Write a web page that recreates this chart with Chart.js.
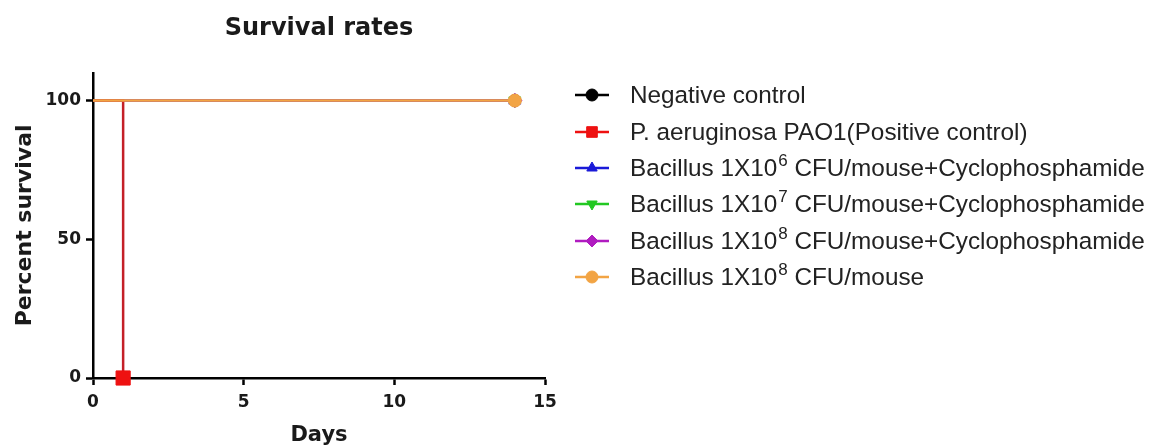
<!DOCTYPE html>
<html>
<head>
<meta charset="utf-8">
<script src="https://cdn.jsdelivr.net/npm/chart.js@4.4.1/dist/chart.umd.min.js"></script>
<style>
  html, body { margin: 0; padding: 0; background: #fff; }
  #wrap { position: relative; width: 1155px; height: 448px; overflow: hidden; }
  #chart { position: absolute; left: 0; top: 0; }
  #legend { position: absolute; left: 575px; top: 77px; font-family: "Liberation Sans", Arial, sans-serif; font-size: 24.3px; color: #222; }
  .item { display: flex; align-items: center; height: 36.4px; white-space: nowrap; }
  .item canvas { margin-right: 21px; flex: none; }
  .item sup { font-size: 17px; vertical-align: 0.6em; line-height: 0; margin-left: 1px; }
</style>
</head>
<body>
<div id="wrap">
  <canvas id="chart" width="570" height="448"></canvas>
  <div id="legend"></div>
</div>
<script>
// Valeurs (jours / % de survie)
const groupDays = [0, 14];
const negativeControl = [100, 100];
const bacillus6Cyclo = [100, 100];
const bacillus7Cyclo = [100, 100];
const bacillus8Cyclo = [100, 100];
const bacillus8 = [100, 100];
const pao1Days = [0, 1, 1];
const pao1Survival = [100, 100, 0];

const seriesNames = [
    'Negative control',
    'P. aeruginosa PAO1(Positive control)',
    'Bacillus 1X10<sup>6</sup> CFU/mouse+Cyclophosphamide',
    'Bacillus 1X10<sup>7</sup> CFU/mouse+Cyclophosphamide',
    'Bacillus 1X10<sup>8</sup> CFU/mouse+Cyclophosphamide',
    'Bacillus 1X10<sup>8</sup> CFU/mouse'
];
const xTicks = [0, 5, 10, 15];
const yTicks = [0, 50, 100];

const boldFont = (size) => ({ family: '"DejaVu Sans", sans-serif', size: size, weight: 'bold' });

function points(xs, ys) {
    return xs.map((x, i) => ({ x: x, y: ys[i] }));
}

// marqueur seulement au dernier point
function lastOnly(n, r) {
    return Array.from({ length: n }, (_, i) => i === n - 1 ? r : 0);
}

function series(i, xs, ys, color, style, radius, order, rotation) {
    return {
        label: seriesNames[i].replace(/<[^>]+>/g, ''),
        data: points(xs, ys),
        borderColor: color,
        backgroundColor: color,
        pointBackgroundColor: color,
        pointBorderColor: color,
        borderWidth: 2.5,
        pointStyle: style,
        pointRotation: rotation || 0,
        pointRadius: lastOnly(xs.length, radius),
        pointBorderWidth: 1,
        order: order,
        clip: false
    };
}

const datasets = [
    series(0, groupDays, negativeControl, '#000000', 'circle', 6, 5),
    series(1, pao1Days, pao1Survival, '#c42028', 'rect', 10, 1),
    series(2, groupDays, bacillus6Cyclo, '#1a1ad8', 'triangle', 7, 4),
    series(3, groupDays, bacillus7Cyclo, '#22c822', 'triangle', 7, 3, 180),
    series(4, groupDays, bacillus8Cyclo, '#b01cc0', 'rectRot', 7, 2),
    series(5, groupDays, bacillus8, '#f2a444', 'circle', 6.5, 0)
];
datasets[1].pointBackgroundColor = '#ee1111';
datasets[1].pointBorderColor = '#ee1111';

const chart = new Chart(document.getElementById('chart'), {
    type: 'line',
    data: { datasets: datasets },
    options: {
        responsive: false,
        animation: false,
        events: [],
        layout: { padding: { left: 0, right: 25, top: 0, bottom: 0 } },
        plugins: {
            legend: { display: false },
            tooltip: { enabled: false },
            title: {
                display: true,
                text: 'Survival rates',
                fullSize: false,
                color: '#1a1a1a',
                font: boldFont(24),
                padding: { top: 14, bottom: 30 }
            }
        },
        scales: {
            x: {
                type: 'linear',
                min: 0,
                max: 15,
                afterBuildTicks: (scale) => { scale.ticks = xTicks.map(v => ({ value: v })); },
                afterFit: (scale) => { scale.height = 70; },
                grid: { drawOnChartArea: false, drawTicks: true, tickLength: 7, tickWidth: 2.5, tickColor: '#000' },
                border: { color: '#000', width: 2.5 },
                ticks: { color: '#1a1a1a', font: boldFont(17), padding: 7, maxRotation: 0 },
                title: { display: true, text: 'Days', color: '#1a1a1a', font: boldFont(21), padding: { top: 0, bottom: 0 } }
            },
            y: {
                min: 0,
                max: 110,
                afterBuildTicks: (scale) => { scale.ticks = yTicks.map(v => ({ value: v })); },
                afterFit: (scale) => { scale.width = 93; },
                grid: { drawOnChartArea: false, drawTicks: true, tickLength: 7, tickWidth: 2.5, tickColor: '#000' },
                border: { color: '#000', width: 2.5 },
                ticks: { color: '#1a1a1a', font: boldFont(17), padding: 5 },
                title: { display: true, text: 'Percent survival', color: '#1a1a1a', font: boldFont(22), padding: { top: 12, bottom: 0 } }
            }
        }
    }
});

// Légende HTML (symbole ligne + marqueur, exposants)
const legend = document.getElementById('legend');
chart.data.datasets.forEach((ds, i) => {
    const item = document.createElement('div');
    item.className = 'item';
    const c = document.createElement('canvas');
    c.width = 34;
    c.height = 20;
    const ctx = c.getContext('2d');
    ctx.strokeStyle = ds.pointBackgroundColor;
    ctx.lineWidth = 2.5;
    ctx.beginPath();
    ctx.moveTo(0, 10);
    ctx.lineTo(34, 10);
    ctx.stroke();
    ctx.fillStyle = ds.pointBackgroundColor;
    ctx.strokeStyle = ds.pointBorderColor;
    ctx.lineWidth = 1;
    const r = ds.pointStyle === 'rect' ? 7.5 : 6;
    Chart.helpers.drawPoint(ctx, { pointStyle: ds.pointStyle, radius: r, rotation: ds.pointRotation, borderWidth: 1 }, 17, 10);
    item.appendChild(c);
    const span = document.createElement('span');
    span.innerHTML = seriesNames[i];
    item.appendChild(span);
    legend.appendChild(item);
});
</script>
</body>
</html>
